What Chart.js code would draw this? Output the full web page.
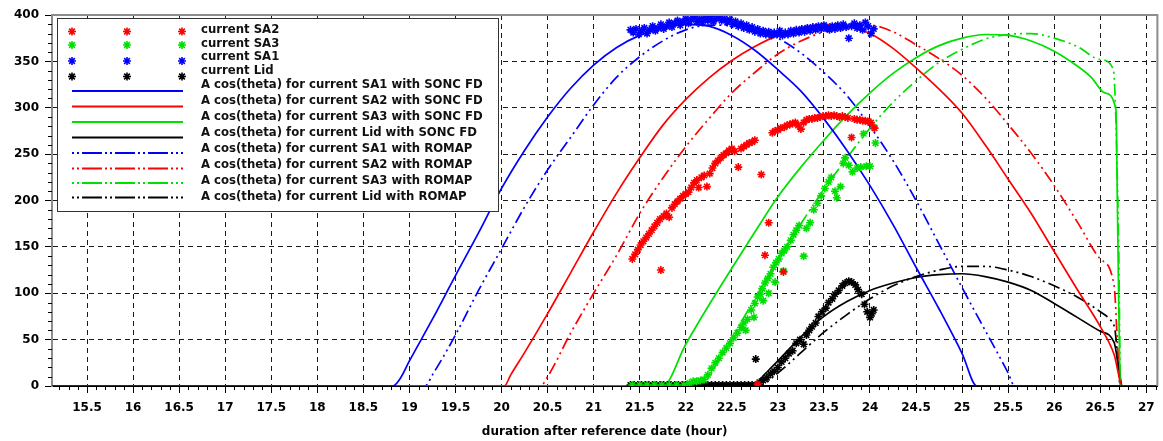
<!DOCTYPE html>
<html>
<head>
<meta charset="utf-8">
<script src="https://cdn.jsdelivr.net/npm/chart.js@4.4.1/dist/chart.umd.min.js"></script>
<style>
  body { margin: 0; background: #fff; }
  #wrap { width: 1163px; height: 441px; }
</style>
</head>
<body>
<div id="wrap"><canvas id="chart" width="1163" height="441"></canvas></div>
<script>
// axis tick labels
const xTicks = [15.5, 16, 16.5, 17, 17.5, 18, 18.5, 19, 19.5, 20, 20.5, 21, 21.5, 22, 22.5, 23, 23.5, 24, 24.5, 25, 25.5, 26, 26.5, 27];
const yTicks = [0, 50, 100, 150, 200, 250, 300, 350, 400];

// measured currents [hour, value]
const currentSA2 = [[21.42,137],[21.45,142],[21.48,147],[21.51,152],[21.54,156],[21.57,160],[21.60,164],[21.63,168],[21.66,172],[21.69,176],[21.72,180],[21.73,125],[21.76,183],[21.79,186],[21.82,182],[21.85,192],[21.88,196],[21.91,199],[21.94,202],[21.97,205],[22.00,207],[22.03,209],[22.06,214],[22.09,219],[22.12,222],[22.14,214],[22.17,225],[22.20,227],[22.23,215],[22.26,229],[22.29,235],[22.32,240],[22.35,243],[22.38,246],[22.41,249],[22.44,251],[22.47,254],[22.50,256],[22.53,253],[22.57,236],[22.60,256],[22.63,258],[22.66,260],[22.69,262],[22.72,263],[22.75,265],[22.78,2],[22.82,228],[22.86,141],[22.90,176],[22.94,273],[22.97,275],[23.00,276],[23.03,278],[23.06,123],[23.07,279],[23.10,281],[23.13,282],[23.16,283],[23.19,284],[23.22,281],[23.25,277],[23.28,284],[23.31,287],[23.34,288],[23.37,288],[23.40,289],[23.43,289],[23.46,290],[23.49,291],[23.52,291],[23.55,292],[23.58,291],[23.61,292],[23.64,291],[23.67,290],[23.70,291],[23.73,290],[23.76,289],[23.80,268],[23.83,288],[23.86,287],[23.89,287],[23.92,286],[23.95,286],[23.98,285],[24.01,284],[24.05,278]];
const currentSA3 = [[21.42,1],[21.50,1],[21.58,1],[21.66,1],[21.74,1],[21.82,1],[21.90,1],[21.98,1],[22.04,3],[22.08,5],[22.12,5],[22.16,6],[22.20,7],[22.24,12],[22.28,19],[22.32,25],[22.36,30],[22.40,36],[22.44,41],[22.48,46],[22.52,52],[22.56,57],[22.60,63],[22.63,68],[22.65,60],[22.67,72],[22.71,82],[22.74,74],[22.75,89],[22.78,96],[22.81,99],[22.83,105],[22.84,92],[22.86,111],[22.89,116],[22.90,100],[22.92,121],[22.95,128],[22.97,112],[22.98,133],[23.01,137],[23.04,143],[23.06,124],[23.07,146],[23.10,150],[23.14,157],[23.17,163],[23.20,168],[23.23,173],[23.28,140],[23.31,170],[23.35,176],[23.39,190],[23.43,197],[23.47,205],[23.51,213],[23.55,220],[23.58,225],[23.62,210],[23.64,203],[23.68,215],[23.71,240],[23.73,246],[23.77,238],[23.81,231],[23.86,235],[23.90,236],[23.93,272],[23.96,237],[24.00,237],[24.04,279],[24.06,262]];
const currentSA1 = [[21.40,384],[21.43,381],[21.46,385],[21.49,379],[21.52,383],[21.55,386],[21.58,380],[21.61,384],[21.64,388],[21.67,383],[21.70,386],[21.73,390],[21.76,385],[21.79,388],[21.82,392],[21.85,387],[21.88,391],[21.91,394],[21.94,389],[21.97,393],[22.00,396],[22.03,391],[22.06,395],[22.09,398],[22.12,393],[22.15,396],[22.18,392],[22.21,397],[22.24,394],[22.27,398],[22.30,393],[22.33,396],[22.36,399],[22.39,394],[22.42,396],[22.45,392],[22.48,395],[22.51,390],[22.54,393],[22.57,388],[22.60,391],[22.63,386],[22.66,389],[22.69,384],[22.72,387],[22.75,382],[22.78,385],[22.81,380],[22.84,383],[22.87,379],[22.90,382],[22.93,378],[22.96,381],[22.99,379],[23.02,383],[23.05,378],[23.08,381],[23.11,379],[23.14,383],[23.17,380],[23.20,384],[23.23,381],[23.26,385],[23.29,382],[23.32,386],[23.35,383],[23.38,387],[23.41,384],[23.44,388],[23.47,385],[23.50,389],[23.53,386],[23.56,384],[23.59,388],[23.62,385],[23.65,389],[23.68,386],[23.71,390],[23.74,387],[23.77,375],[23.80,388],[23.83,391],[23.86,386],[23.89,389],[23.92,384],[23.95,392],[23.98,388],[24.01,380],[24.04,385]];
const currentLid = [[21.40,1],[21.44,1],[21.48,1],[21.52,1],[21.56,1],[21.60,1],[21.64,1],[21.68,1],[21.72,1],[21.76,1],[21.80,1],[21.84,1],[21.88,1],[21.92,1],[21.96,1],[22.00,1],[22.04,1],[22.08,1],[22.12,1],[22.16,1],[22.20,1],[22.24,1],[22.28,1],[22.32,1],[22.36,1],[22.40,1],[22.44,1],[22.48,1],[22.52,1],[22.56,1],[22.60,1],[22.64,1],[22.68,1],[22.72,1],[22.76,1],[22.76,29],[22.80,4],[22.84,6],[22.88,9],[22.92,13],[22.96,16],[23.00,20],[23.04,26],[23.08,30],[23.12,35],[23.16,38],[23.20,46],[23.24,50],[23.28,45],[23.31,55],[23.34,60],[23.37,64],[23.41,68],[23.44,75],[23.48,80],[23.52,84],[23.55,90],[23.59,94],[23.62,99],[23.66,103],[23.70,108],[23.73,111],[23.77,113],[23.80,112],[23.84,109],[23.87,104],[23.91,99],[23.94,88],[23.97,80],[24.00,74],[24.02,78],[24.04,82]];

// A cos(theta) with SONC FD
const sa1Sonc = [[15.12,0],[18.82,0],[18.9,8],[19.0,27],[19.25,72],[19.5,119],[19.75,165],[20.0,213],[20.25,254],[20.5,290],[20.75,321],[21.0,346],[21.25,365],[21.5,378],[21.75,386],[22.0,390],[22.25,388],[22.5,378],[22.75,362],[23.0,341],[23.25,318],[23.5,288],[23.75,254],[24.0,216],[24.25,174],[24.5,128],[24.75,83],[25.0,35],[25.16,0],[27.12,0]];
const sa2Sonc = [[15.12,0],[20.03,0],[20.1,12],[20.25,36],[20.5,78],[20.75,122],[21.0,166],[21.25,208],[21.5,246],[21.75,281],[22.0,309],[22.25,332],[22.5,351],[22.75,366],[23.0,378],[23.25,386],[23.5,390],[23.75,388],[24.0,380],[24.25,364],[24.5,343],[24.75,320],[25.0,294],[25.25,260],[25.5,223],[25.75,186],[26.0,145],[26.25,104],[26.5,64],[26.65,34],[26.74,0],[27.12,0]];
const sa3Sonc = [[15.12,0],[21.75,0],[22.0,45],[22.25,87],[22.5,127],[22.75,166],[23.0,204],[23.25,236],[23.5,265],[23.75,292],[24.0,316],[24.25,337],[24.5,354],[24.75,367],[25.0,375],[25.25,379],[25.5,378],[25.75,372],[26.0,361],[26.25,345],[26.4,333],[26.55,316],[26.67,298],[26.685,200],[26.7,90],[26.72,0],[27.12,0]];
const lidSonc = [[15.12,0],[22.73,0],[22.85,12],[23.0,27],[23.25,53],[23.5,75],[23.75,91],[24.0,103],[24.25,111],[24.5,117],[24.75,120],[25.0,121],[25.25,118],[25.5,112],[25.75,103],[26.0,89],[26.25,74],[26.5,59],[26.65,47],[26.7,20],[26.74,0],[27.12,0]];

// A cos(theta) with ROMAP
const sa1Romap = [[15.12,0],[19.17,0],[19.25,12],[19.5,55],[19.75,103],[20.0,148],[20.25,193],[20.5,233],[20.75,268],[21.0,303],[21.25,333],[21.5,355],[21.75,372],[22.0,384],[22.25,389],[22.5,389],[22.75,384],[23.0,375],[23.25,359],[23.5,338],[23.75,313],[24.0,280],[24.25,243],[24.5,200],[24.75,153],[25.0,106],[25.25,60],[25.5,14],[25.57,0],[27.12,0]];
const sa2Romap = [[15.12,0],[20.42,0],[20.5,10],[20.75,57],[21.0,100],[21.25,141],[21.5,186],[21.75,224],[22.0,258],[22.25,288],[22.5,316],[22.75,338],[23.0,358],[23.25,372],[23.5,382],[23.75,389],[24.0,389],[24.25,382],[24.5,368],[24.75,353],[25.0,335],[25.25,311],[25.5,282],[25.75,251],[26.0,216],[26.25,177],[26.5,137],[26.65,108],[26.69,40],[26.72,0],[27.12,0]];
const sa3Romap = [[15.12,0],[22.2,0],[22.25,9],[22.5,52],[22.75,94],[23.0,136],[23.25,175],[23.5,212],[23.75,246],[24.0,278],[24.25,306],[24.5,329],[24.75,349],[25.0,363],[25.25,374],[25.5,379],[25.75,380],[26.0,375],[26.25,366],[26.5,352],[26.64,342],[26.7,150],[26.72,0],[27.12,0]];
const lidRomap = [[15.12,0],[22.78,0],[23.0,14],[23.25,36],[23.5,58],[23.75,77],[24.0,94],[24.25,108],[24.5,118],[24.75,125],[25.0,129],[25.25,129],[25.5,125],[25.75,118],[26.0,108],[26.25,96],[26.5,80],[26.6,72],[26.66,60],[26.72,0],[27.12,0]];

const RED = '#ff0000', GREEN = '#00e000', BLUE = '#0000ff', BLACK = '#000000';
const FONT = 'DejaVu Sans';

function toXY(pairs) {
    return pairs.map(p => ({x: p[0], y: p[1]}));
}

function scatterSet(label, pairs, color) {
    return {
        label: label, kind: 'scatter', data: toXY(pairs), showLine: false,
        pointStyle: 'star', pointRadius: 4, pointHoverRadius: 4, pointBorderWidth: 1.6,
        pointBorderColor: color, borderColor: color, backgroundColor: color
    };
}

function lineSet(label, pairs, color, romap) {
    return {
        label: label, kind: romap ? 'romap' : 'sonc', data: toXY(pairs), showLine: true,
        pointRadius: 0, pointHoverRadius: 0, borderColor: color, backgroundColor: color,
        borderWidth: 1.7, borderDash: romap ? [12, 4, 2, 4, 2, 4] : [],
        cubicInterpolationMode: 'monotone'
    };
}

function drawStar(ctx, x, y, r, color) {
    ctx.save();
    ctx.strokeStyle = color;
    ctx.lineWidth = 1.6;
    ctx.beginPath();
    for (let i = 0; i < 4; i++) {
        const a = i * Math.PI / 4;
        ctx.moveTo(x - Math.cos(a) * r, y - Math.sin(a) * r);
        ctx.lineTo(x + Math.cos(a) * r, y + Math.sin(a) * r);
    }
    ctx.stroke();
    ctx.restore();
}

// frame on top/right and the small unlabelled ticks
const framePlugin = {
    id: 'frame',
    afterDraw(chart) {
        const ctx = chart.ctx, a = chart.chartArea;
        const xs = chart.scales.x, ys = chart.scales.y;
        ctx.save();
        ctx.strokeStyle = '#8c8c8c';
        ctx.lineWidth = 2;
        ctx.beginPath();
        ctx.moveTo(a.left, a.top);
        ctx.lineTo(a.right, a.top);
        ctx.lineTo(a.right, a.bottom);
        ctx.stroke();

        ctx.strokeStyle = '#000';
        ctx.lineWidth = 1;
        ctx.beginPath();
        for (let k = 152; k <= 271; k++) {
            if (k % 5 === 0) continue;
            const px = Math.round(xs.getPixelForValue(k / 10)) + 0.5;
            ctx.moveTo(px, a.bottom);
            ctx.lineTo(px, a.bottom + 4);
        }
        for (let k = 1; k < 40; k++) {
            if (k % 5 === 0) continue;
            const py = Math.round(ys.getPixelForValue(k * 10)) + 0.5;
            ctx.moveTo(a.left - 4, py);
            ctx.lineTo(a.left, py);
        }
        ctx.stroke();
        ctx.restore();
    }
};

// boxed legend in the upper left
const legendPlugin = {
    id: 'boxLegend',
    afterDraw(chart) {
        const ctx = chart.ctx;
        const textY = [30, 43.5, 57, 70.5, 85, 100.5, 116.5, 132.5, 149, 165, 181, 197];
        const symY = [31.5, 45, 61, 76.5, 91, 106.5, 122, 137.5, 153, 168.5, 183, 197.5];
        ctx.save();
        ctx.fillStyle = '#fff';
        ctx.fillRect(57, 18, 441, 193);
        ctx.strokeStyle = '#333';
        ctx.lineWidth = 1;
        ctx.strokeRect(57.5, 18.5, 441, 193);
        ctx.font = 'bold 11.7px "' + FONT + '"';
        ctx.textBaseline = 'middle';
        ctx.textAlign = 'left';
        chart.data.datasets.forEach((ds, i) => {
            const y = symY[i];
            if (ds.kind === 'scatter') {
                [72, 127, 182].forEach(x => drawStar(ctx, x, y, 4, ds.borderColor));
            } else {
                ctx.save();
                ctx.strokeStyle = ds.borderColor;
                ctx.lineWidth = 2;
                if (ds.kind === 'romap') {
                    ctx.setLineDash([20, 3, 2, 3, 2, 3]);
                    ctx.lineDashOffset = 23;
                }
                ctx.beginPath();
                ctx.moveTo(72, y);
                ctx.lineTo(183, y);
                ctx.stroke();
                ctx.restore();
            }
            ctx.fillStyle = '#111';
            ctx.fillText(ds.label, 201, textY[i]);
        });
        ctx.restore();
    }
};

const tickFont = {family: FONT, size: 12, weight: 'bold'};

new Chart(document.getElementById('chart'), {
    type: 'scatter',
    data: {
        datasets: [
            scatterSet('current SA2', currentSA2, RED),
            scatterSet('current SA3', currentSA3, GREEN),
            scatterSet('current SA1', currentSA1, BLUE),
            scatterSet('current Lid', currentLid, BLACK),
            lineSet('A cos(theta) for current SA1 with SONC FD', sa1Sonc, BLUE, false),
            lineSet('A cos(theta) for current SA2 with SONC FD', sa2Sonc, RED, false),
            lineSet('A cos(theta) for current SA3 with SONC FD', sa3Sonc, GREEN, false),
            lineSet('A cos(theta) for current Lid with SONC FD', lidSonc, BLACK, false),
            lineSet('A cos(theta) for current SA1 with ROMAP', sa1Romap, BLUE, true),
            lineSet('A cos(theta) for current SA2 with ROMAP', sa2Romap, RED, true),
            lineSet('A cos(theta) for current SA3 with ROMAP', sa3Romap, GREEN, true),
            lineSet('A cos(theta) for current Lid with ROMAP', lidRomap, BLACK, true)
        ]
    },
    options: {
        responsive: false,
        animation: false,
        events: [],
        layout: {padding: {top: 15, right: 2, left: 0, bottom: 0}},
        plugins: {
            legend: {display: false},
            tooltip: {enabled: false}
        },
        scales: {
            x: {
                type: 'linear',
                min: 15.12,
                max: 27.12,
                afterBuildTicks: s => { s.ticks = xTicks.map(v => ({value: v})); },
                afterFit: s => { s.height = 55; },
                ticks: {font: tickFont, color: '#000', padding: 8, maxRotation: 0, autoSkip: false, callback: v => String(v)},
                grid: {color: '#1a1a1a', lineWidth: 1, tickLength: 7, tickColor: '#000', tickWidth: 1},
                border: {display: true, color: '#000', width: 2, dash: [5, 4]},
                title: {display: true, text: 'duration after reference date (hour)', font: tickFont, color: '#000', padding: {top: 0, bottom: 2}}
            },
            y: {
                type: 'linear',
                min: 0,
                max: 400,
                afterBuildTicks: s => { s.ticks = yTicks.map(v => ({value: v})); },
                afterFit: s => { s.width = 52; },
                ticks: {font: tickFont, color: '#000', padding: 6, callback: v => String(v)},
                grid: {
                    color: c => (c.tick && (c.tick.value === 0 || c.tick.value === 400)) ? 'rgba(0,0,0,0)' : '#1a1a1a',
                    lineWidth: 1, tickLength: 7, tickColor: '#000', tickWidth: 1
                },
                border: {display: true, color: '#8c8c8c', width: 2, dash: [5, 4]}
            }
        }
    },
    plugins: [framePlugin, legendPlugin]
});
</script>
</body>
</html>
